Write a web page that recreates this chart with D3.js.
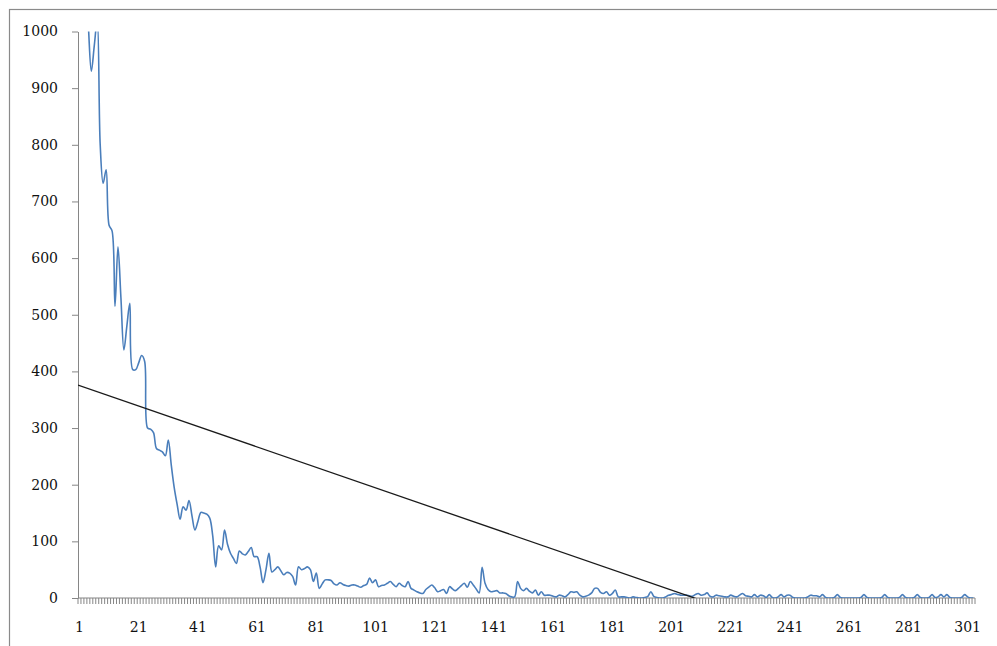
<!DOCTYPE html>
<html>
<head>
<meta charset="utf-8">
<script src="https://cdn.jsdelivr.net/npm/d3@7"></script>
<style>
  body { margin: 0; background: #fff; }
  svg { display: block; }
  .tick text { font-family: "DejaVu Serif", serif; font-size: 14px; fill: #111; }
</style>
</head>
<body>
<svg id="chart" width="997" height="646"></svg>
<script>
// Daily counts, one value per category (1..303)
const values = [
  1300, 1200, 1100, 1010, 930, 975, 1020, 800, 732, 756,
  658, 648, 515, 620, 530, 438, 480, 520, 403, 403,
  415, 428, 418, 300, 298, 292, 264, 261, 258, 251,
  279, 235, 195, 165, 139, 161, 155, 172, 145, 120,
  135, 151, 150, 148, 141, 110, 55, 92, 85, 120,
  95, 79, 70, 61, 83, 78, 76, 82, 89, 73,
  73, 55, 27, 50, 79, 46, 50, 55, 48, 41,
  45, 44, 38, 23, 55, 50, 52, 55, 50, 29,
  44, 17, 25, 32, 32, 31, 25, 23, 27, 24,
  22, 21, 23, 23, 21, 19, 22, 24, 35, 27,
  32, 20, 22, 23, 26, 29, 24, 20, 26, 22,
  20, 29, 17, 14, 11, 9, 8, 15, 19, 23,
  18, 11, 13, 15, 8, 20, 16, 13, 17, 22,
  26, 19, 29, 23, 16, 9, 54, 26, 15, 11,
  12, 13, 9, 9, 8, 4, 2, 2, 29, 17,
  13, 17, 12, 9, 14, 5, 11, 5, 5, 5,
  3, 2, 5, 4, 2, 6, 11, 10, 11, 5,
  2, 3, 5, 9, 17, 17, 10, 8, 11, 5,
  8, 14, 2, 2, 2, 1, 0, 2, 1, 0,
  0, 1, 3, 11, 3, 1, 0, 0, 2, 5,
  6, 8, 6, 5, 5, 5, 4, 3, 6, 8,
  5, 6, 9, 3, 2, 5, 4, 3, 2, 2,
  5, 3, 2, 5, 8, 4, 3, 2, 6, 2,
  5, 4, 1, 6, 1, 0, 2, 6, 2, 5,
  5, 1, 0, 0, 0, 0, 2, 5, 4, 4,
  2, 6, 1, 0, 0, 1, 6, 1, 0, 0,
  0, 0, 0, 0, 1, 6, 1, 0, 0, 0,
  0, 1, 6, 1, 0, 0, 0, 1, 6, 1,
  0, 0, 1, 6, 1, 0, 0, 1, 6, 1,
  2, 6, 2, 6, 1, 0, 0, 0, 1, 6,
  2, 0, 0
];
const categories = values.map((_, i) => i + 1);
const xLabels = d3.range(1, 302, 20);
const yTicks = d3.range(0, 1001, 100);

// Linear trend: value at the left edge of the first category, and change per category
const trendStart = 376;
const trendSlope = -1.806;

const plot = { left: 78, top: 31.5, right: 975, bottom: 598 };
const axisColor = "#868686";

const svg = d3.select("#chart");

// chart frame (runs past the right and bottom edges)
svg.append("rect")
  .attr("x", 9.5).attr("y", 9.5)
  .attr("width", 1200).attr("height", 900)
  .attr("fill", "#fff")
  .attr("stroke", "#8a8a8a").attr("stroke-width", 1.2);

const x = d3.scaleBand()
  .domain(categories)
  .range([plot.left, plot.right])
  .paddingInner(0).paddingOuter(0);
const xMid = d => x(d) + x.bandwidth() / 2;
// continuous category position, for the trend line
const xCat = d3.scaleLinear()
  .domain([0.5, categories.length + 0.5])
  .range([plot.left, plot.right]);
const y = d3.scaleLinear().domain([0, 1000]).range([plot.bottom, plot.top]);

svg.append("defs").append("clipPath").attr("id", "plot-clip")
  .append("rect")
  .attr("x", plot.left).attr("y", plot.top)
  .attr("width", plot.right - plot.left)
  .attr("height", plot.bottom - plot.top);

// y axis
const yAxis = svg.append("g")
  .attr("transform", `translate(${plot.left},0)`)
  .call(d3.axisLeft(y).tickValues(yTicks).tickSize(6).tickSizeOuter(0)
    .tickPadding(14).tickFormat(d3.format("d")));
yAxis.select(".domain").attr("stroke", axisColor);
yAxis.selectAll(".tick line").attr("stroke", axisColor);

// x axis: labels every 20 categories, tick marks between every category
const xAxis = svg.append("g")
  .attr("transform", `translate(0,${plot.bottom})`)
  .call(d3.axisBottom(x).tickValues(xLabels).tickSize(0).tickSizeOuter(0).tickPadding(24));
xAxis.select(".domain").remove();
xAxis.selectAll(".tick line").remove();

const boundaries = categories.map(c => x(c)).concat([x(categories[categories.length - 1]) + x.bandwidth()]);
svg.append("g").selectAll("line")
  .data(boundaries)
  .join("line")
  .attr("x1", d => d).attr("x2", d => d)
  .attr("y1", plot.bottom).attr("y2", plot.bottom + 6)
  .attr("stroke", axisColor).attr("stroke-width", 1);
svg.append("line")
  .attr("x1", plot.left).attr("x2", plot.right)
  .attr("y1", plot.bottom).attr("y2", plot.bottom)
  .attr("stroke", axisColor).attr("stroke-width", 1.2);

const plotArea = svg.append("g").attr("clip-path", "url(#plot-clip)");

// series line (smoothed)
const series = categories.map((c, i) => ({ c, v: values[i] }));
plotArea.append("path")
  .datum(series)
  .attr("fill", "none")
  .attr("stroke", "#4a7ebb")
  .attr("stroke-width", 1.6)
  .attr("stroke-linejoin", "round")
  .attr("d", d3.line()
    .x(d => xMid(d.c))
    .y(d => y(d.v))
    .curve(d3.curveCatmullRom.alpha(0.5)));

// linear trend line
const n = categories.length;
const trend = [
  { c: 0.5, v: trendStart },
  { c: n + 0.5, v: trendStart + trendSlope * n }
];
plotArea.append("path")
  .datum(trend)
  .attr("fill", "none")
  .attr("stroke", "#1a1a1a")
  .attr("stroke-width", 1.3)
  .attr("d", d3.line().x(d => xCat(d.c)).y(d => y(d.v)));
</script>
</body>
</html>
